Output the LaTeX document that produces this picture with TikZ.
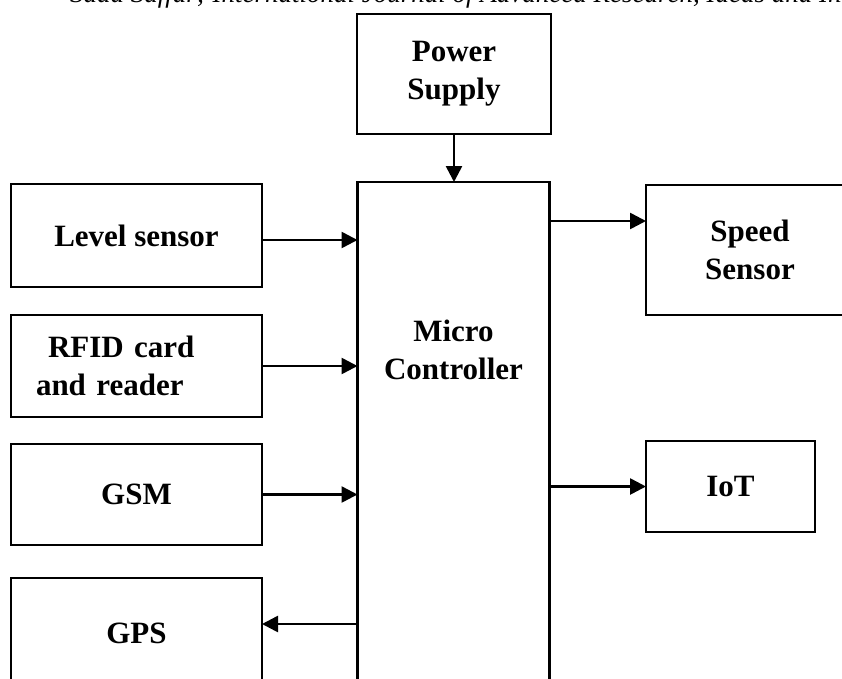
\documentclass[tikz,border=0pt]{standalone}
\usepackage{fontspec}
\setmainfont{Liberation Serif}
\usetikzlibrary{positioning,calc,arrows.meta}
\tikzstyle{block} = [rectangle, draw=black, line width=2.6pt, outer sep=0pt, inner sep=0pt, align=center, font=\bfseries\fontsize{31}{38}\selectfont]
\tikzstyle{arrow} = [line width=2.6pt,-{Triangle[length=16pt,width=16pt]}]
\tikzset{lbl/.style={font=\bfseries\fontsize{31}{38}\selectfont, align=center, inner sep=0pt}}

\begin{document}
\begin{tikzpicture}[x=1pt,y=-1pt]
\useasboundingbox (0,0) rectangle (842,678);
\clip (0,0) rectangle (842,678);
% strip of the running head
\node (hdr) [anchor=base west, inner sep=0pt, font=\itshape\fontsize{27}{30}\selectfont] at (70,2) {Saad Saffar; International Journal of Advanced Research, Ideas and Innovations in Technology};

\node (ps) [block, minimum width=194pt, minimum height=120pt] at (454,74) {Power\\Supply};
\node (mc) [block, minimum width=192pt, minimum height=560pt, anchor=north] at (453.5,182) {};
\node (mctxt) [lbl, below=138pt of mc.north] {Micro\\Controller};

\node (lvl) [block, minimum width=251pt, minimum height=103pt] at (136.5,235.5) {Level sensor};
\node (rfid) [block, minimum height=102pt, below=28pt of lvl, align=left, text width=201pt, inner xsep=25pt] {\hspace*{12pt}RFID card\\and reader};
\node (gsm) [block, minimum width=251pt, minimum height=101pt, below=27pt of rfid] {GSM};
\node (gps) [block, minimum width=251pt, minimum height=110pt, below=33pt of gsm] {GPS};

\node (spd) [block, minimum width=208pt, minimum height=130pt, anchor=north west] at (646,185) {Speed\\Sensor};
\node (iot) [block, minimum width=169pt, minimum height=91pt, anchor=north west] at (646,441) {IoT};

\draw [arrow] (ps.south) -- (ps.south |- mc.north);
\coordinate (lvlout) at ([yshift=-4.5pt]lvl.east);
\draw [arrow] (lvlout) -- (lvlout -| mc.west);
\draw [arrow] (rfid.east) -- (rfid.east -| mc.west);
\draw [arrow] (gsm.east) -- (gsm.east -| mc.west);
\coordinate (gpsin) at ([yshift=9pt]gps.east);
\draw [arrow] (gpsin -| mc.west) -- (gpsin);
\coordinate (spdin) at ([yshift=29pt]spd.west);
\draw [arrow] (spdin -| mc.east) -- (spdin);
\draw [arrow] (iot.west -| mc.east) -- (iot.west);
\end{tikzpicture}
\end{document}
